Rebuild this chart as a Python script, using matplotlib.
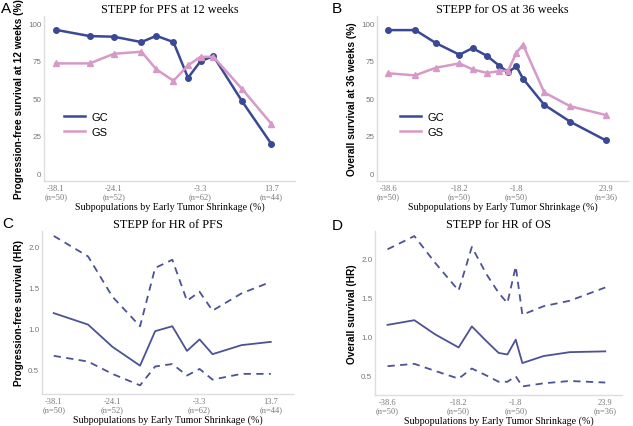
import matplotlib.pyplot as plt

# Panel A / C: subpopulations by early tumor shrinkage (%)
a_x = [-38.1, -29.9, -24.1, -17.5, -13.9, -9.8, -6.3, -3.3, -0.2, 6.7, 13.7]
a_gc = [95.7, 91.5, 91.1, 87.5, 91.7, 87.5, 63.7, 74.7, 78.2, 48.0, 19.7]
a_gs = [73.3, 73.3, 79.7, 81.1, 69.3, 61.7, 72.0, 77.7, 77.7, 56.2, 33.1]
a_ticks = [-38.1, -24.1, -3.3, 13.7]
a_ticklabels = ['-38.1\n(n=50)', '-24.1\n(n=52)', '-3.3\n(n=62)', '13.7\n(n=44)']

# Panel B / D
b_x = [-38.6, -30.9, -25.0, -18.2, -14.4, -10.2, -6.7, -4.2, -1.8, 0.1, 6.2, 13.7, 23.9]
b_gc = [95.5, 95.5, 86.9, 79.1, 83.5, 78.2, 71.7, 67.5, 71.3, 63.1, 45.7, 34.4, 22.0]
b_gs = [66.7, 65.3, 70.4, 73.3, 69.3, 66.9, 68.2, 68.4, 80.4, 85.7, 54.0, 44.7, 38.9]
b_ticks = [-38.6, -18.2, -1.8, 23.9]
b_ticklabels = ['-38.6\n(n=50)', '-18.2\n(n=50)', '-1.8\n(n=50)', '23.9\n(n=36)']

# HR of PFS
c_hr = [1.19, 1.05, 0.78, 0.55, 0.97, 1.03, 0.73, 0.87, 0.69, 0.80, 0.84]
c_hi = [2.13, 1.88, 1.39, 1.03, 1.74, 1.84, 1.34, 1.45, 1.22, 1.43, 1.57]
c_lo = [0.67, 0.60, 0.45, 0.31, 0.54, 0.57, 0.43, 0.51, 0.38, 0.45, 0.45]

# HR of OS
d_hr = [1.15, 1.21, 1.03, 0.86, 1.13, 0.94, 0.79, 0.77, 0.96, 0.66, 0.75, 0.80, 0.81]
d_hi = [2.12, 2.29, 1.95, 1.59, 2.15, 1.80, 1.56, 1.43, 1.90, 1.28, 1.39, 1.46, 1.63]
d_lo = [0.62, 0.65, 0.56, 0.46, 0.59, 0.50, 0.42, 0.42, 0.49, 0.36, 0.40, 0.43, 0.41]

GC_COL = '#3b4896'
GS_COL = '#d699c8'
HR_COL = '#4c5294'
SERIF = 'Liberation Serif'
SANS = 'Liberation Sans'
XLABEL = 'Subpopulations by Early Tumor Shrinkage (%)'

W, H = 633, 427
fig = plt.figure(figsize=(W / 100, H / 100), dpi=100)


def make_ax(l, t, r, b):
    # pixel box -> figure fraction
    return fig.add_axes([l / W, 1 - b / H, (r - l) / W, (b - t) / H])


def style(ax, title, ylabel, ticks, ticklabels):
    for s in ['top', 'right']:
        ax.spines[s].set_visible(False)
    for s in ['left', 'bottom']:
        ax.spines[s].set_color('#dddddd')
        ax.spines[s].set_linewidth(1.0)
    ax.tick_params(length=0, colors='#777777', labelsize=5.8, pad=2)
    ax.set_xticks(ticks)
    ax.set_xticklabels(ticklabels, family=SERIF, fontsize=6, linespacing=1.0)
    for lab in ax.get_yticklabels():
        lab.set_family(SANS)
    ax.set_title(title, family=SERIF, fontsize=8.8, pad=3)
    ax.set_ylabel(ylabel, family=SANS, fontweight='bold', fontsize=7.3, labelpad=3)
    ax.set_xlabel(XLABEL, family=SERIF, fontsize=7.2, labelpad=1)


def letter(px, py, s):
    fig.text(px / W, 1 - py / H, s, family=SANS, fontsize=11, va='top', ha='left')


# A
ax = make_ax(44, 17, 295, 182)
ax.plot(a_x, a_gc, color=GC_COL, lw=1.8, marker='o', ms=4, label='GC')
ax.plot(a_x, a_gs, color=GS_COL, lw=1.8, marker='^', ms=4.5, label='GS')
ax.set_xlim(-40.9, 19.4)
ax.set_ylim(-5.1, 104.9)
ax.set_yticks([0, 25, 50, 75, 100])
style(ax, 'STEPP for PFS at 12 weeks', 'Progression-free survival at 12 weeks (%)',
      a_ticks, a_ticklabels)
ax.legend(loc='center left', bbox_to_anchor=(0.04, 0.345), frameon=False,
          prop={'family': SANS, 'size': 8}, handlelength=1.9, markerscale=0,
          labelspacing=0.45, handletextpad=0.6)

# B
ax = make_ax(377, 17, 628, 182)
ax.plot(b_x, b_gc, color=GC_COL, lw=1.8, marker='o', ms=4, label='GC')
ax.plot(b_x, b_gs, color=GS_COL, lw=1.8, marker='^', ms=4.5, label='GS')
ax.set_xlim(-41.9, 30.3)
ax.set_ylim(-5.1, 104.9)
ax.set_yticks([0, 25, 50, 75, 100])
style(ax, 'STEPP for OS at 36 weeks', 'Overall survival at 36 weeks (%)',
      b_ticks, b_ticklabels)
ax.legend(loc='center left', bbox_to_anchor=(0.05, 0.345), frameon=False,
          prop={'family': SANS, 'size': 8}, handlelength=1.9, markerscale=0,
          labelspacing=0.45, handletextpad=0.6)

# C
ax = make_ax(42, 232, 293, 395)
ax.plot(a_x, c_hr, color=HR_COL, lw=1.3)
ax.plot(a_x, c_hi, color=HR_COL, lw=1.3, ls=(0, (4, 3)))
ax.plot(a_x, c_lo, color=HR_COL, lw=1.3, ls=(0, (4, 3)))
ax.set_xlim(-40.9, 19.0)
ax.set_ylim(0.205, 2.19)
ax.set_yticks([0.5, 1.0, 1.5, 2.0])
style(ax, 'STEPP for HR of PFS', 'Progression-free survival (HR)',
      a_ticks, a_ticklabels)

# D
ax = make_ax(375, 232, 622, 396)
ax.plot(b_x, d_hr, color=HR_COL, lw=1.3)
ax.plot(b_x, d_hi, color=HR_COL, lw=1.3, ls=(0, (4, 3)))
ax.plot(b_x, d_lo, color=HR_COL, lw=1.3, ls=(0, (4, 3)))
ax.set_xlim(-42.2, 28.7)
ax.set_ylim(0.25, 2.355)
ax.set_yticks([0.5, 1.0, 1.5, 2.0])
style(ax, 'STEPP for HR of OS', 'Overall survival (HR)',
      b_ticks, b_ticklabels)

letter(1, 2, 'A')
letter(332, 2, 'B')
letter(2, 217, 'C')
letter(332, 219, 'D')

fig.savefig('out.png', dpi=100)
